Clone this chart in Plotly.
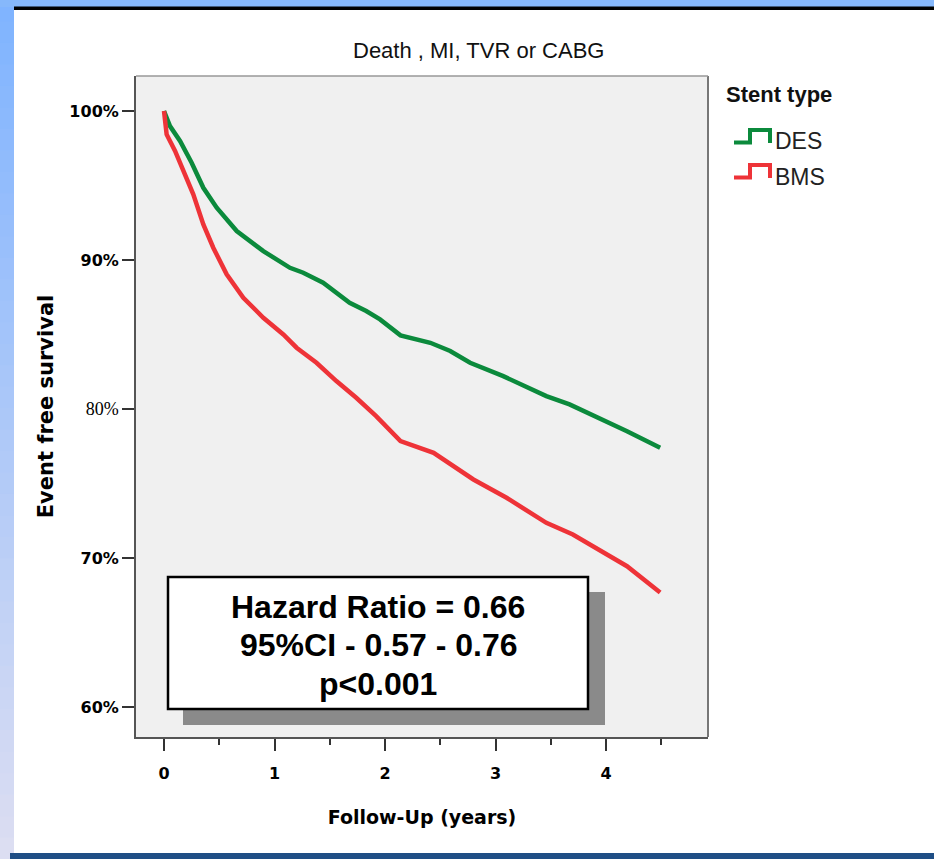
import plotly.graph_objects as go

# ---------------- data ----------------
des_t = [0, 0.054, 0.145, 0.25, 0.356, 0.477, 0.658, 0.899, 1.14, 1.26, 1.44, 1.68, 1.83,
         1.955, 2.14, 2.41, 2.59, 2.77, 3.07, 3.46, 3.67, 4.0, 4.19, 4.49]
des_v = [100, 98.99, 97.99, 96.53, 94.85, 93.51, 91.95, 90.60, 89.48, 89.15, 88.48, 87.13, 86.58,
         86.02, 84.95, 84.45, 83.90, 83.11, 82.21, 80.87, 80.32, 79.19, 78.52, 77.40]

bms_t = [0, 0.024, 0.10, 0.175, 0.265, 0.356, 0.446, 0.567, 0.718, 0.899, 1.08, 1.20, 1.38,
         1.56, 1.74, 1.92, 2.14, 2.44, 2.59, 2.80, 3.10, 3.46, 3.70, 4.04, 4.19, 4.49]
bms_v = [100, 98.43, 97.32, 95.97, 94.41, 92.39, 90.83, 89.04, 87.47, 86.13, 85.01, 84.12, 83.11,
         81.88, 80.76, 79.53, 77.85, 77.07, 76.29, 75.28, 74.05, 72.37, 71.59, 70.13, 69.46, 67.70]

series_names = ["DES", "BMS"]
series_colors = ["#0b8a3c", "#ee3338"]
y_tickvals = [60, 70, 80, 90, 100]
y_ticktext = ["60%", "70%",
              '<span style="font-family:Liberation Serif;font-weight:normal;font-size:18px">80%</span>',
              "90%", "100%"]
x_tickvals = [0, 1, 2, 3, 4]
title_text = "Death , MI, TVR or CABG"
legend_title = "Stent type"
box_lines = ["Hazard Ratio = 0.66", "95%CI - 0.57 - 0.76", "p<0.001"]

# ---------------- layout geometry ----------------
W, H = 934, 859
L, R, T, B = 136, 708, 76, 737


def px(x):
    return (x - L) / (R - L)


def py(y):
    return (B - y) / (B - T)


fig = go.Figure()
for t, v, name, col in [(des_t, des_v, series_names[0], series_colors[0]),
                        (bms_t, bms_v, series_names[1], series_colors[1])]:
    fig.add_trace(go.Scatter(x=t, y=v, mode="lines", name=name,
                             line=dict(color=col, width=4.5), showlegend=False))

shapes = []
# slide decoration: left gradient strip
n = 40
c0 = (128, 180, 255)
c1 = (220, 222, 242)
for i in range(n):
    f = i / (n - 1)
    c = tuple(int(c0[k] + (c1[k] - c0[k]) * f) for k in range(3))
    y0 = H * i / n
    y1 = H * (i + 1) / n + 1
    shapes.append(dict(type="rect", xref="paper", yref="paper", x0=px(0), x1=px(14),
                       y0=py(y1), y1=py(y0), fillcolor="rgb(%d,%d,%d)" % c,
                       line=dict(width=0), layer="below"))
# top strip
shapes.append(dict(type="rect", xref="paper", yref="paper", x0=px(0), x1=px(W),
                   y0=py(7), y1=py(0), fillcolor="#86b8fb", line=dict(width=0), layer="below"))
# black line at top
shapes.append(dict(type="rect", xref="paper", yref="paper", x0=px(14), x1=px(W),
                   y0=py(10), y1=py(6.5), fillcolor="#000000", line=dict(width=0), layer="below"))
# bottom dark bar
shapes.append(dict(type="rect", xref="paper", yref="paper", x0=px(10), x1=px(W),
                   y0=py(H), y1=py(853), fillcolor="#1f4e85", line=dict(width=0), layer="below"))

# text box shadow and frame
shapes.append(dict(type="rect", xref="paper", yref="paper", x0=px(183), x1=px(605),
                   y0=py(725), y1=py(592), fillcolor="#8a8a8a", line=dict(width=0)))
shapes.append(dict(type="rect", xref="paper", yref="paper", x0=px(168), x1=px(588),
                   y0=py(709), y1=py(577), fillcolor="#ffffff", line=dict(color="#000000", width=2.5)))

# legend icons (step glyphs)
for (ylow, yhigh, col) in [(142.5, 130, series_colors[0]), (177.5, 165, series_colors[1])]:
    path = "M %f %f L %f %f L %f %f L %f %f L %f %f" % (
        px(734), py(ylow), px(750), py(ylow), px(750), py(yhigh),
        px(770), py(yhigh), px(770), py(ylow + 0.5))
    shapes.append(dict(type="path", xref="paper", yref="paper", path=path,
                       line=dict(color=col, width=4)))

annotations = []
annotations.append(dict(text=title_text, xref="paper", yref="paper", x=px(478), y=py(50),
                        showarrow=False, xanchor="center", yanchor="middle",
                        font=dict(family="Liberation Sans", size=22, color="#111111")))
annotations.append(dict(text="<b>" + legend_title + "</b>", xref="paper", yref="paper",
                        x=px(724), y=py(95), showarrow=False, xanchor="left", yanchor="middle",
                        font=dict(family="Liberation Sans", size=22, color="#111111")))
for name, yy in [(series_names[0], 141), (series_names[1], 177)]:
    annotations.append(dict(text=name, xref="paper", yref="paper", x=px(773), y=py(yy),
                            showarrow=False, xanchor="left", yanchor="middle",
                            font=dict(family="Liberation Sans", size=23, color="#222222")))
for line, yy in zip(box_lines, [607, 645, 684]):
    annotations.append(dict(text="<b>" + line + "</b>", xref="paper", yref="paper",
                            x=px(378), y=py(yy), showarrow=False, xanchor="center", yanchor="middle",
                            font=dict(family="Liberation Sans", size=32, color="#000000")))

fig.update_layout(
    width=W, height=H,
    margin=dict(l=L, r=W - R, t=T, b=H - B),
    paper_bgcolor="#ffffff",
    plot_bgcolor="#f0f0f0",
    shapes=shapes,
    annotations=annotations,
    showlegend=False,
)
fig.update_xaxes(
    range=[-0.2534, 4.923], tickvals=x_tickvals, ticktext=[str(v) for v in x_tickvals],
    ticks="outside", ticklen=12, tickwidth=2, tickcolor="#333333",
    minor=dict(dtick=0.5, tick0=0, ticks="outside", ticklen=6, tickwidth=2, tickcolor="#333333"),
    showline=True, linecolor="#555555", linewidth=2, mirror=False,
    showgrid=False, zeroline=False, ticklabelstandoff=9,
    tickfont=dict(family="DejaVu Sans", size=16, color="#000000", weight="bold"),
    title=dict(text="Follow-Up (years)", standoff=28,
               font=dict(family="DejaVu Sans", size=19, color="#000000", weight="bold")),
)
fig.update_yaxes(
    range=[58.0, 102.35], tickvals=y_tickvals, ticktext=y_ticktext,
    ticks="outside", ticklen=12, tickwidth=2, tickcolor="#333333",
    showline=True, linecolor="#555555", linewidth=2, mirror=False,
    showgrid=False, zeroline=False,
    tickfont=dict(family="DejaVu Sans", size=16, color="#000000", weight="bold"),
    title=dict(text="Event free survival", standoff=10,
               font=dict(family="DejaVu Sans", size=21, color="#000000", weight="bold")),
)
# right and top frame of plot area
fig.add_shape(type="line", xref="paper", yref="paper", x0=1, x1=1, y0=0, y1=1,
              line=dict(color="#777777", width=2))
fig.add_shape(type="line", xref="paper", yref="paper", x0=0, x1=1, y0=1, y1=1,
              line=dict(color="#999999", width=1.5))

fig.write_html("out.html")
